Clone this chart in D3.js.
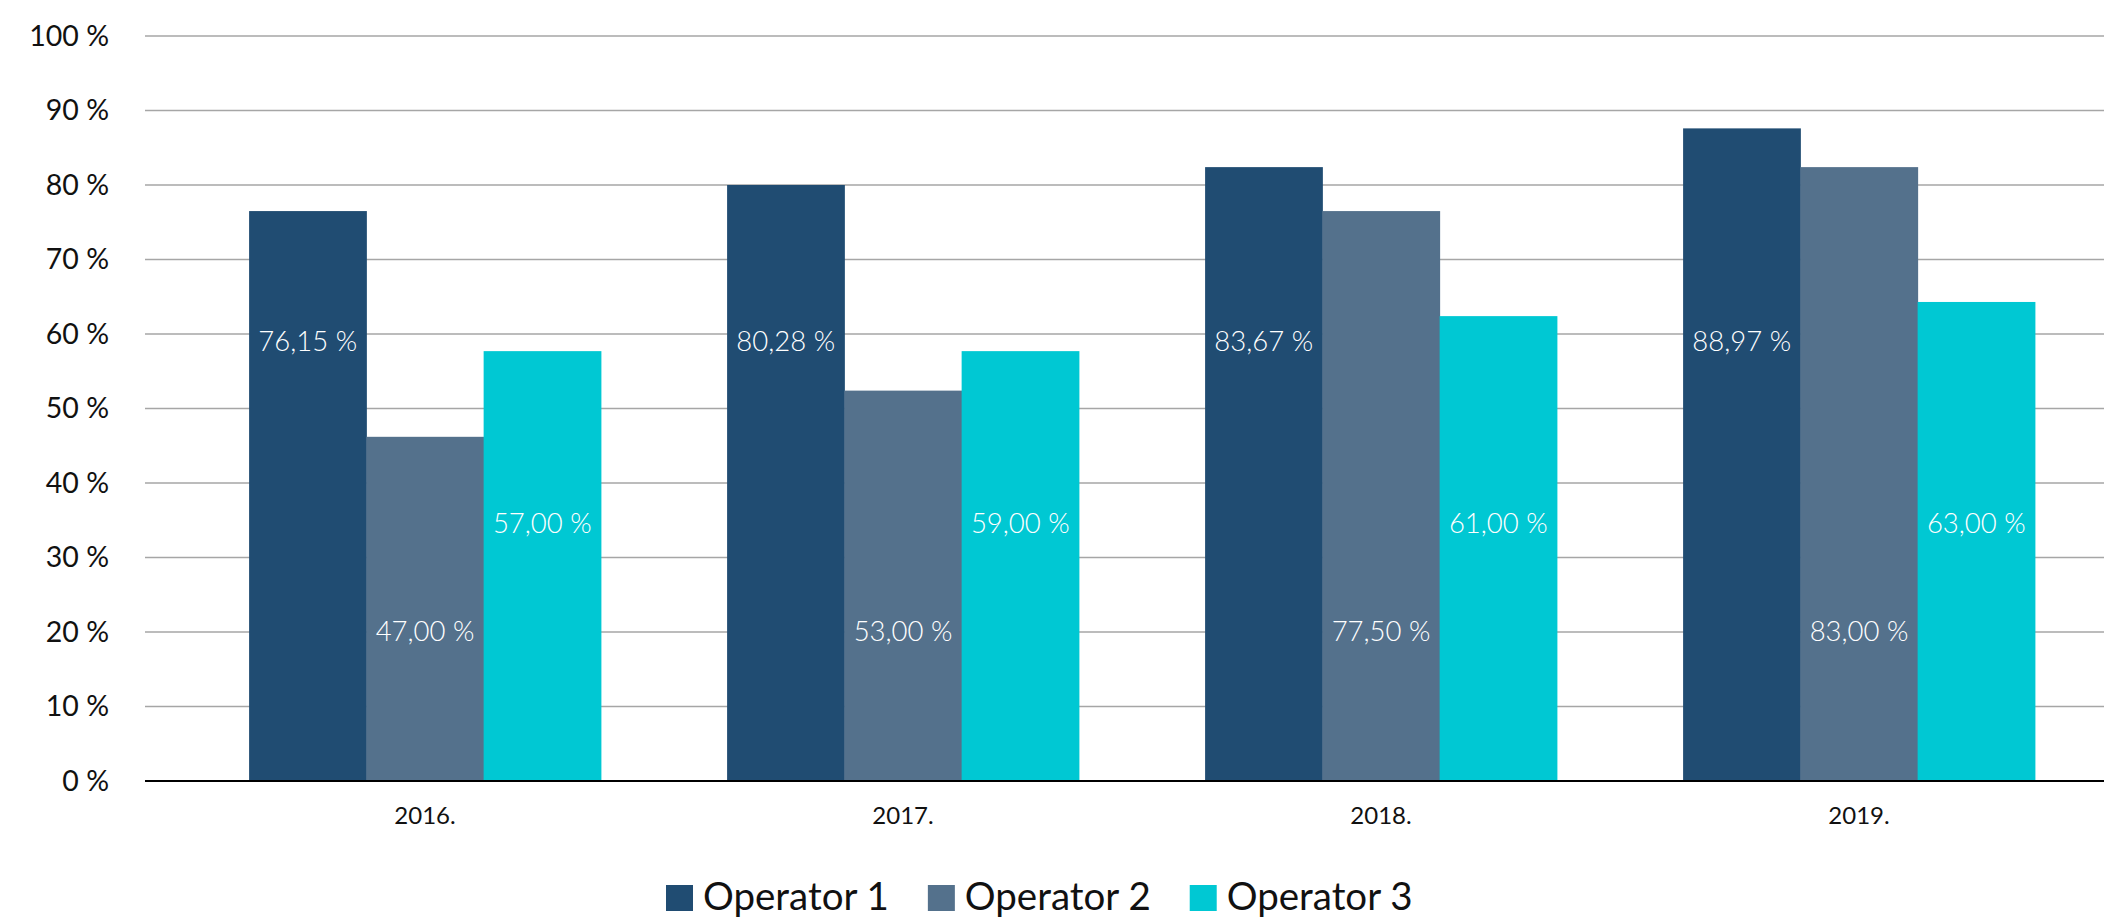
<!DOCTYPE html>
<html>
<head>
<meta charset="utf-8">
<script src="https://cdn.jsdelivr.net/npm/d3@7"></script>
<style>
  html, body { margin: 0; padding: 0; background: #ffffff; }
  svg { display: block; }
</style>
</head>
<body>
<svg id="chart" width="2104" height="920"></svg>
<script>
// ---- data ----
const categories = ["2016.", "2017.", "2018.", "2019."];
const seriesNames = ["Operator 1", "Operator 2", "Operator 3"];
// bar heights as drawn in the picture (percent)
const operator1 = [76.5, 80.0, 82.4, 87.6];
const operator2 = [46.2, 52.4, 76.5, 82.4];
const operator3 = [57.7, 57.7, 62.4, 64.3];
// printed labels
const operator1Labels = ["76,15 %", "80,28 %", "83,67 %", "88,97 %"];
const operator2Labels = ["47,00 %", "53,00 %", "77,50 %", "83,00 %"];
const operator3Labels = ["57,00 %", "59,00 %", "61,00 %", "63,00 %"];
const yTicks = [0, 10, 20, 30, 40, 50, 60, 70, 80, 90, 100];

// ---- styling / layout ----
const colors = ["#204c72", "#54718c", "#00c8d3"];
const labelLevel = [59, 20.1, 34.6]; // vertical placement of value labels per series (axis units)
const plotLeft = 145, plotRight = 2104, plotTop = 36, plotBottom = 781;
const font = "Lato, 'Open Sans', sans-serif";

const seriesValues = [operator1, operator2, operator3];
const seriesLabels = [operator1Labels, operator2Labels, operator3Labels];

const svg = d3.select("#chart");

const y = d3.scaleLinear().domain([0, 100]).range([plotBottom, plotTop]);
const x0 = d3.scaleBand().domain(categories).range([186, 2098]).paddingInner(0.264).paddingOuter(0.132);
const x1 = d3.scaleBand().domain(seriesNames).range([0, x0.bandwidth()]).padding(0);

// gridlines
svg.append("g")
  .selectAll("line")
  .data(yTicks.filter(d => d > 0))
  .join("line")
  .attr("x1", plotLeft).attr("x2", plotRight)
  .attr("y1", d => y(d)).attr("y2", d => y(d))
  .attr("stroke", "#a6a6a6").attr("stroke-width", 1.5);

// y axis labels
const yAxis = d3.axisLeft(y).tickValues(yTicks).tickFormat(d => d + " %").tickSize(0).tickPadding(36);
const gy = svg.append("g").attr("transform", `translate(${plotLeft},0)`).call(yAxis);
gy.select(".domain").remove();
gy.selectAll("text")
  .attr("font-family", font).attr("font-size", 28.5).attr("font-weight", 400)
  .attr("fill", "#111111");

// bars
const groups = svg.append("g")
  .selectAll("g")
  .data(categories)
  .join("g")
  .attr("transform", d => `translate(${x0(d)},0)`);

groups.selectAll("rect")
  .data((c, i) => seriesNames.map((s, k) => ({ s, k, v: seriesValues[k][i] })))
  .join("rect")
  .attr("x", d => x1(d.s))
  .attr("width", x1.bandwidth() + 0.5)
  .attr("y", d => y(d.v))
  .attr("height", d => y(0) - y(d.v))
  .attr("fill", d => colors[d.k]);

groups.selectAll("text")
  .data((c, i) => seriesNames.map((s, k) => ({ s, k, t: seriesLabels[k][i] })))
  .join("text")
  .attr("x", d => x1(d.s) + x1.bandwidth() / 2)
  .attr("y", d => y(labelLevel[d.k]))
  .attr("dy", "0.36em")
  .attr("text-anchor", "middle")
  .attr("font-family", font).attr("font-size", 27.5).attr("font-weight", 300)
  .attr("fill", "#ffffff")
  .text(d => d.t);

// x axis baseline
svg.append("line")
  .attr("x1", plotLeft).attr("x2", plotRight)
  .attr("y1", y(0)).attr("y2", y(0))
  .attr("stroke", "#000000").attr("stroke-width", 2);

// x axis labels
const xAxis = d3.axisBottom(x0).tickSize(0).tickPadding(0);
const gx = svg.append("g").attr("transform", `translate(0,${y(0)})`).call(xAxis);
gx.select(".domain").remove();
gx.selectAll("text")
  .attr("font-family", font).attr("font-size", 24).attr("font-weight", 400)
  .attr("fill", "#111111")
  .attr("dy", null)
  .attr("y", 43);

// legend
const legend = svg.append("g");
let lx = 666;
seriesNames.forEach((name, k) => {
  legend.append("rect")
    .attr("x", lx).attr("y", 885).attr("width", 27).attr("height", 26)
    .attr("fill", colors[k]);
  const t = legend.append("text")
    .attr("x", lx + 37).attr("y", 910)
    .attr("font-family", font).attr("font-size", 38.5).attr("font-weight", 400)
    .attr("fill", "#111111")
    .text(name);
  lx += 37 + t.node().getComputedTextLength() + 39;
});
</script>
</body>
</html>
